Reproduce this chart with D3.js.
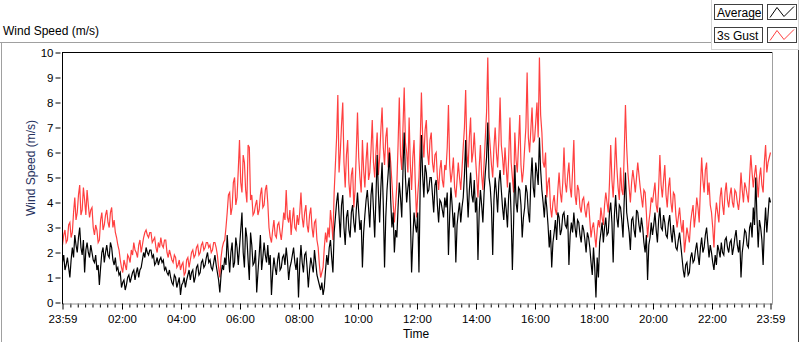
<!DOCTYPE html>
<html>
<head>
<meta charset="utf-8">
<script src="https://cdn.jsdelivr.net/npm/d3@7"></script>
<style>
  body { margin: 0; background: #fff; }
  text { font-family: "Liberation Sans", Arial, sans-serif; }
</style>
</head>
<body>
<div id="windchart"></div>
<script>
// samples every 2.5 minutes, first one at 23:59 of the previous day
var startMinute = -1;
var stepMinutes = 2.5;

var seriesNames = ["Average", "3s Gust"];

// one row per hour
var gust = [
  2.3,2.7, 2.9,2.4, 2.5,3.1, 3.2,2.6, 2.8,3.6, 4.2,3.3, 3.6,4.3, 4.7,3.5, 3.7,4.6, 4.1,3.5, 4.5,3.9, 3.4,3.7,
  3.8,3.0, 2.7,3.1, 2.9,2.4, 2.5,3.3, 3.6,2.9, 3.1,3.5, 3.7,3.2, 3.0,3.6, 3.8,3.0, 3.3,2.8, 2.6,2.3, 2.1,1.7,
  1.4,1.2, 1.7,1.5, 1.3,1.9, 1.8,1.6, 2.1,1.9, 2.4,2.1, 2.0,1.8, 2.3,2.5, 2.0,2.3, 2.6,2.8, 2.9,2.7, 2.6,2.8,
  2.8,2.4, 2.5,2.6, 2.2,2.0, 2.4,2.2, 2.6,2.3, 2.2,2.5, 2.5,2.0, 1.8,2.1, 1.9,1.7, 1.6,1.9, 1.8,1.4, 1.5,1.7,
  1.3,1.5, 1.6,1.1, 1.2,1.7, 1.8,1.4, 1.7,2.0, 2.1,1.8, 1.9,2.2, 2.3,1.9, 2.0,2.3, 2.4,2.1, 2.2,2.4, 2.4,2.2,
  2.3,2.0, 2.1,2.4, 2.4,2.2, 1.9,1.4, 1.0,1.8, 2.2,2.4, 2.5,3.0, 3.6,4.3, 4.4,3.5, 3.8,4.8, 5.0,3.9, 4.2,5.3,
  6.5,4.8, 4.4,5.9, 5.6,4.5, 4.0,6.3, 6.2,4.1, 4.3,3.5, 3.6,3.9, 4.1,3.5, 3.7,4.3, 4.6,3.8, 3.9,4.5, 4.7,4.0,
  3.0,2.6, 2.4,2.9, 3.3,2.7, 2.6,3.1, 3.2,2.8, 2.5,3.0, 3.6,3.3, 4.5,3.4, 3.2,3.7, 2.7,3.3, 3.8,3.0, 2.9,3.5,
  3.1,3.6, 4.4,3.4, 3.0,3.6, 3.9,3.1, 2.8,3.5, 3.8,3.0, 2.6,3.2, 3.3,2.5, 2.2,1.5, 1.0,1.2, 1.4,2.2, 2.8,2.4,
  3.0,2.6, 3.7,3.2, 2.5,4.4, 5.5,6.6, 8.3,5.2, 6.0,7.1, 8.0,5.6, 4.6,5.9, 6.5,4.8, 4.2,5.1, 5.4,3.8, 4.5,6.0,
  7.6,5.8, 5.0,4.4, 6.5,5.3, 4.6,5.7, 6.4,4.9, 5.2,6.1, 7.3,5.6, 5.0,6.0, 6.8,5.1, 5.8,6.9, 7.8,6.2, 5.5,6.6,
  7.0,5.4, 6.2,5.6, 4.8,4.0, 3.2,3.9, 4.7,6.3, 8.2,5.9, 5.3,7.0, 8.6,6.4, 6.0,5.2, 7.4,5.5, 4.5,5.8, 6.5,4.8,
  3.4,4.3, 5.0,6.4, 8.4,6.6, 5.8,6.9, 7.3,6.0, 5.5,6.5, 6.8,5.6, 5.2,5.9, 6.0,5.0, 4.5,5.3, 5.7,4.9, 4.6,5.5,
  5.3,6.2, 7.9,5.5, 4.8,5.2, 5.8,4.6, 4.2,4.9, 5.6,5.0, 4.5,5.3, 6.2,7.0, 8.5,6.0, 5.4,6.6, 7.4,5.6, 6.0,6.8,
  5.8,5.0, 4.2,5.4, 6.3,5.1, 4.5,5.6, 6.6,7.6, 9.8,6.9, 6.2,5.5, 5.0,6.2, 7.0,6.0, 5.4,6.5, 8.2,6.3, 5.8,5.1,
  6.2,5.4, 4.6,5.8, 7.4,5.6, 5.0,4.4, 6.8,5.7, 5.2,6.3, 7.5,5.5, 4.8,5.3, 6.2,7.0, 9.2,6.6, 6.0,6.9, 7.8,6.4,
  6.5,7.2, 8.0,6.6, 9.8,7.5, 6.8,5.6, 5.4,6.0, 4.2,4.8, 5.0,3.8, 3.4,4.0, 4.3,3.7, 3.5,4.5, 5.2,4.4, 4.0,4.8,
  6.2,4.8, 4.4,5.1, 5.6,4.6, 4.2,5.3, 6.5,4.3, 3.9,4.7, 4.5,3.8, 3.6,4.1, 4.2,3.7, 3.4,3.9, 4.0,3.3, 2.6,3.0,
  3.2,2.7, 2.2,2.9, 3.3,3.0, 3.8,3.4, 3.1,3.9, 4.4,4.0, 3.6,4.8, 6.3,4.9, 4.2,5.2, 6.6,5.4, 4.6,4.1, 5.4,4.5,
  4.3,6.0, 7.9,6.2, 5.2,4.6, 4.0,4.8, 5.3,4.9, 4.4,5.0, 5.6,5.1, 4.6,4.2, 3.8,4.5, 4.4,3.6, 2.6,3.2, 3.6,4.2,
  4.0,4.4, 4.8,3.9, 3.6,4.6, 5.9,4.7, 4.2,4.9, 5.5,4.3, 3.8,4.6, 5.0,4.0, 3.6,4.4, 4.3,3.5, 3.0,3.4, 3.8,3.2,
  2.8,3.3, 2.0,2.5, 3.0,2.7, 2.4,3.2, 3.6,3.9, 3.0,3.5, 4.2,3.8, 3.2,4.6, 5.8,4.9, 4.4,5.3, 5.6,4.3, 4.8,3.9,
  3.6,3.0, 2.2,3.4, 4.0,3.6, 3.2,4.2, 4.6,3.9, 3.5,4.4, 4.8,4.1, 3.8,4.3, 4.6,4.0, 3.8,4.5, 4.4,4.0, 3.7,4.2,
  5.2,4.5, 4.0,4.8, 4.6,4.3, 4.0,5.0, 5.9,5.2, 4.6,5.1, 5.5,4.9, 4.2,5.0, 5.4,4.7, 4.4,5.6, 6.3,5.2, 5.6,5.8,
  6.0
];

var average = [
  1.6,1.9, 1.3,1.5, 1.8,1.4, 1.0,1.7, 2.2,1.8, 2.7,2.3, 2.0,2.6, 3.0,2.2, 1.9,2.5, 1.2,2.1, 2.4,2.0, 1.8,2.3,
  2.0,1.7, 1.6,1.9, 1.3,1.5, 0.7,1.4, 2.0,2.2, 1.6,2.0, 2.3,1.9, 1.8,2.4, 2.2,1.7, 1.5,1.8, 1.3,1.4, 1.1,1.2,
  0.6,0.8, 0.9,0.5, 0.7,1.0, 1.1,0.8, 1.0,1.2, 1.3,0.9, 1.2,1.4, 1.0,1.3, 1.4,1.7, 2.0,1.8, 2.2,2.0, 1.9,2.1,
  2.1,1.8, 1.9,1.5, 1.6,1.8, 1.5,1.7, 1.8,1.6, 1.7,1.3, 1.4,1.2, 1.1,1.3, 1.0,0.8, 0.7,1.1, 1.0,0.6, 0.8,1.0,
  0.3,0.7, 0.8,1.0, 0.6,0.9, 1.1,1.3, 0.9,1.2, 1.3,0.8, 1.0,1.4, 1.5,1.1, 1.2,1.6, 1.7,1.4, 1.5,1.8, 2.0,1.6,
  1.7,1.4, 1.3,1.6, 1.9,1.5, 1.2,0.9, 0.4,1.1, 1.5,1.3, 1.8,1.5, 2.7,1.9, 1.2,2.0, 2.4,1.4, 1.6,2.6, 2.2,1.5,
  2.2,2.9, 3.6,2.0, 1.4,3.0, 2.6,1.7, 0.9,2.8, 2.3,1.5, 1.6,2.1, 0.4,1.2, 1.9,2.7, 1.3,1.8, 2.4,1.9, 1.6,2.3,
  1.5,1.9, 0.3,1.2, 1.8,1.4, 1.1,1.7, 2.0,1.3, 1.4,1.8, 1.9,1.5, 2.2,1.7, 0.9,1.4, 1.6,1.9, 2.2,1.6, 1.3,1.8,
  0.2,1.5, 2.3,1.6, 1.2,1.9, 2.0,1.4, 0.6,1.3, 1.8,1.5, 1.2,2.1, 1.6,1.1, 0.9,0.7, 0.5,0.8, 0.3,0.6, 1.3,1.9,
  1.5,2.2, 2.5,1.8, 1.2,2.8, 3.4,4.0, 4.4,3.5, 2.6,3.9, 4.3,3.0, 2.3,3.4, 3.7,2.9, 2.6,3.6, 3.9,3.2, 2.8,3.7,
  4.4,3.6, 2.9,3.3, 1.4,2.8, 3.5,4.1, 4.5,3.8, 3.0,4.3, 4.8,3.7, 2.6,4.2, 5.9,4.4, 3.2,4.6, 5.6,3.9, 1.4,3.4,
  4.5,5.2, 6.0,4.1, 3.0,3.6, 2.0,2.9, 2.6,3.8, 4.8,4.2, 3.4,5.3, 6.8,5.0, 4.0,4.6, 5.0,3.5, 1.2,2.5, 3.6,3.1,
  2.8,3.6, 1.2,4.6, 6.7,5.1, 4.2,5.5, 5.2,4.4, 4.5,5.0, 5.0,4.3, 3.6,4.7, 4.9,3.9, 3.2,4.1, 4.0,3.7, 3.4,4.2,
  3.8,4.4, 1.9,3.5, 4.6,3.9, 3.0,3.6, 1.6,3.1, 3.6,4.0, 3.2,3.8, 4.2,5.1, 6.5,4.6, 3.4,4.5, 5.2,4.3, 4.0,4.9,
  3.6,4.2, 1.7,3.6, 4.5,3.9, 3.2,4.4, 5.2,5.8, 7.2,5.0, 4.6,3.8, 1.9,4.1, 5.0,4.4, 3.6,4.8, 5.3,4.5, 3.8,3.3,
  4.2,3.7, 3.0,4.3, 4.8,3.5, 1.3,3.2, 5.5,4.0, 3.6,4.6, 4.5,3.9, 2.6,3.4, 3.8,4.7, 4.4,3.6, 3.2,4.9, 5.8,4.6,
  4.2,5.6, 5.2,4.7, 6.6,5.3, 4.5,4.0, 3.4,4.3, 3.8,3.1, 2.2,2.9, 1.4,2.4, 2.8,3.3, 2.5,3.6, 3.4,2.7, 2.9,3.5,
  3.6,3.1, 3.0,3.5, 1.5,2.7, 3.2,2.8, 3.6,3.0, 2.6,3.3, 3.2,2.7, 2.4,3.1, 2.9,2.5, 2.0,2.8, 2.6,2.2, 1.6,1.1,
  2.2,1.4, 0.2,1.8, 1.0,2.4, 2.8,3.2, 2.4,3.0, 3.4,2.7, 2.8,3.6, 4.0,3.2, 1.6,3.5, 4.3,3.4, 3.0,3.9, 3.8,3.3,
  2.6,4.1, 5.2,3.6, 3.2,2.8, 2.1,3.3, 3.4,2.9, 2.6,3.7, 3.6,3.1, 2.8,3.4, 3.0,2.4, 2.0,2.7, 0.9,2.3, 2.6,3.2,
  2.7,3.1, 3.6,2.9, 2.4,3.3, 3.8,3.0, 2.9,3.5, 3.2,2.7, 2.6,3.2, 3.5,2.8, 2.4,3.1, 2.7,2.2, 2.1,2.5, 2.8,2.3,
  1.8,1.3, 1.0,1.5, 1.6,1.1, 1.2,1.8, 2.0,1.6, 1.7,2.1, 2.4,1.9, 1.5,2.2, 2.6,2.0, 2.2,2.7, 3.0,2.4, 1.8,2.3,
  2.0,1.6, 1.3,1.9, 1.5,2.3, 2.1,1.8, 2.4,2.0, 1.9,2.5, 2.6,2.2, 2.0,2.4, 2.5,1.9, 2.2,2.6, 2.9,2.3, 2.0,2.5,
  1.0,2.0, 2.4,2.9, 2.8,2.3, 2.2,3.0, 3.2,2.6, 3.8,3.1, 5.0,3.4, 2.2,3.3, 3.0,2.5, 1.5,2.9, 3.8,2.8, 3.5,4.2,
  4.0
];

var majorTicks = [-1, 120, 240, 360, 480, 600, 720, 840, 960, 1080, 1200, 1320, 1439];
var yTicks = [0, 1, 2, 3, 4, 5, 6, 7, 8, 9, 10];

var width = 800, height = 342;
var svg = d3.select("#windchart").append("svg")
    .attr("width", width)
    .attr("height", height);

var x = d3.scaleLinear()
    .domain([-1, 1439])
    .range([62.5, 770.5]);
var y = d3.scaleLinear()
    .domain([0, 10])
    .range([302.5, 52.5]);

var fmt = function (m) {
    if (m < 0) m += 1440;
    return d3.format("02")(Math.floor(m / 60)) + ":" + d3.format("02")(m % 60);
};

// outer frame of the chart control
svg.append("line").attr("x1", 0).attr("x2", 712).attr("y1", 42.5).attr("y2", 42.5)
    .attr("stroke", "#a0a0a0");
svg.append("line").attr("x1", 1.5).attr("x2", 1.5).attr("y1", 42).attr("y2", height)
    .attr("stroke", "#a0a0a0");
svg.append("line").attr("x1", 798.5).attr("x2", 798.5).attr("y1", 0).attr("y2", height)
    .attr("stroke", "#404040");

svg.append("text")
    .attr("x", 3).attr("y", 35)
    .attr("font-size", 12)
    .text("Wind Speed (m/s)");

// legend panel
var legend = svg.append("g").attr("class", "legend");
legend.append("rect")
    .attr("x", 711.5).attr("y", -1).attr("width", 87).attr("height", 50.5)
    .attr("fill", "#fff").attr("stroke", "#d4d4d4");
var swatchColor = ["#000", "#ff4040"];
seriesNames.forEach(function (name, i) {
    var top = 4.5 + i * 23;
    legend.append("rect")
        .attr("x", 714.5).attr("y", top).attr("width", 48).attr("height", 15)
        .attr("fill", "#fff").attr("stroke", "#404040");
    legend.append("text")
        .attr("x", 717).attr("y", top + 12)
        .attr("font-size", 12)
        .text(name);
    legend.append("rect")
        .attr("x", 767.5).attr("y", top).attr("width", 29).attr("height", 15)
        .attr("fill", "#fff").attr("stroke", "#404040");
    legend.append("path")
        .attr("d", d3.line()([[770, top + 13], [777, top + 3], [784, top + 12], [794, top + 2]]))
        .attr("fill", "none")
        .attr("stroke", swatchColor[i]);
});

// plot area
var plot = svg.append("g").attr("class", "plot");
plot.append("line").attr("x1", 62).attr("x2", 773).attr("y1", 52.5).attr("y2", 52.5)
    .attr("stroke", "#000");
plot.append("line").attr("x1", 772.5).attr("x2", 772.5).attr("y1", 52).attr("y2", 303.5)
    .attr("stroke", "#a0a0a0");

var line = d3.line()
    .x(function (d, i) { return x(startMinute + i * stepMinutes); })
    .y(function (d) { return y(d); });

plot.append("path")
    .datum(gust)
    .attr("class", "gustline")
    .attr("d", line)
    .attr("fill", "none")
    .attr("stroke", "#ff4040")
    .attr("stroke-width", 1.2);
plot.append("path")
    .datum(average)
    .attr("class", "avgline")
    .attr("d", line)
    .attr("fill", "none")
    .attr("stroke", "#000")
    .attr("stroke-width", 1.2);

// axes
var minorTicks = d3.range(15, 1439, 15).filter(function (m) { return m % 120 !== 0; });

var xMinor = d3.axisBottom(x).tickValues(minorTicks).tickSize(4).tickFormat("");
var xAxis = d3.axisBottom(x).tickValues(majorTicks).tickSize(6).tickPadding(5).tickFormat(fmt);
var yAxis = d3.axisLeft(y).tickValues(yTicks).tickSize(7).tickPadding(2).tickFormat(d3.format("d"));

var gxm = svg.append("g")
    .attr("class", "axis xminor")
    .attr("transform", "translate(0,303.5)")
    .call(xMinor);
gxm.select(".domain").remove();
gxm.selectAll("line").attr("stroke", "#000");

var gx = svg.append("g")
    .attr("class", "axis xaxis")
    .attr("transform", "translate(0,303.5)")
    .call(xAxis);
gx.select(".domain").attr("stroke", "#909090").attr("d", "M62,0.5H773");
gx.selectAll("text").attr("font-size", 11.5).attr("fill", "#000").attr("font-family", "Liberation Sans, Arial, sans-serif");

var gy = svg.append("g")
    .attr("class", "axis yaxis")
    .attr("transform", "translate(62.5,0)")
    .call(yAxis);
gy.select(".domain").attr("stroke", "#000").attr("d", "M0,52V304");
gy.selectAll(".tick line").attr("x1", -2);
gy.selectAll("text").attr("font-size", 11.5).attr("fill", "#000").attr("font-family", "Liberation Sans, Arial, sans-serif");

// axis titles
svg.append("text")
    .attr("x", 416).attr("y", 338)
    .attr("text-anchor", "middle")
    .attr("font-size", 12)
    .text("Time");
svg.append("text")
    .attr("transform", "translate(35,168) rotate(-90)")
    .attr("text-anchor", "middle")
    .attr("font-size", 12)
    .attr("fill", "#27325e")
    .text("Wind Speed (m/s)");
</script>
</body>
</html>
